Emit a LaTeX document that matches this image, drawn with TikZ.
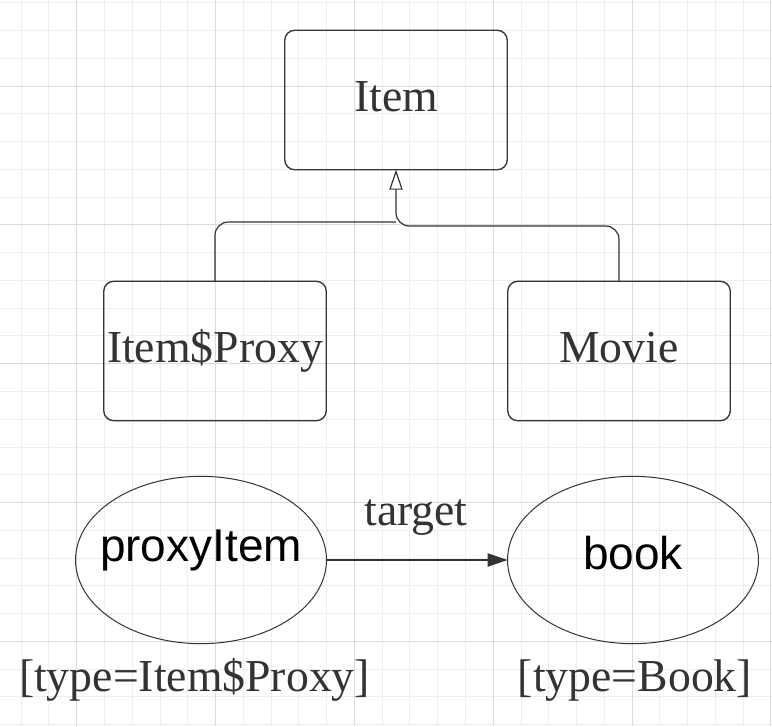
\documentclass[tikz,border=0pt]{standalone}
\usepackage{fontspec}
\setmainfont{Liberation Serif}
\newfontfamily\objfont{Liberation Sans}
\usetikzlibrary{shapes.geometric}
\usetikzlibrary{arrows.meta}
\definecolor{inkgray}{HTML}{333333}
\definecolor{gridminor}{HTML}{EEEEEE}
\definecolor{gridmajor}{HTML}{DADADA}

\begin{document}
\begin{tikzpicture}[x=0.75pt,y=-0.75pt,inner sep=2pt,outer sep=0pt,
classbox/.style={draw=inkgray,rectangle,rounded corners=7.5pt,line width=1pt,minimum width=166.9pt,minimum height=104.6pt,
  text=inkgray,font=\fontsize{34.3}{40}\selectfont,text height=23.8pt,text depth=6.8pt},
objellipse/.style={draw=inkgray,ellipse,inner sep=0pt,line width=0.75pt,minimum width=188.2pt,minimum height=125.5pt,
  text=black,font=\objfont\fontsize{34.5}{40}\selectfont,text height=24.7pt},
typelabel/.style={text=inkgray,font=\fontsize{34.3}{40}\selectfont,inner sep=0pt}]

\useasboundingbox (0,0) rectangle (772,726);
\fill[white] (0,0) rectangle (772,726);

% grid
\foreach \k in {-2,...,25}
  \draw[gridminor,line width=0.75pt] (76.7+27.77*\k,0) -- (76.7+27.77*\k,726);
\foreach \k in {-3,...,23}
  \draw[gridminor,line width=0.75pt] (0,86+27.77*\k) -- (772,86+27.77*\k);
\foreach \j in {0,...,5}
  \draw[gridmajor,line width=0.75pt] (76.7+138.85*\j,0) -- (76.7+138.85*\j,726);
\foreach \j in {0,...,4}
  \draw[gridmajor,line width=0.75pt] (0,86+138.85*\j) -- (772,86+138.85*\j);

% classes
\node[classbox] (item) at (396,100) {Item};
\node[classbox] (itemproxy) at (215,351) {Item\$Proxy};
\node[classbox] (movie) at (619,351) {Movie};

\coordinate (forkl) at (396,222);
\coordinate (forkr) at (396,226);
\draw[inkgray,line width=0.9pt,rounded corners=10pt] (itemproxy.north) |- (forkl);
\draw[inkgray,line width=0.9pt,rounded corners=10pt,-{Triangle[open,length=15pt,width=10pt]}]
  (movie.north) |- (forkr) -- (item.south);

% objects
\node[objellipse,text depth=22.2pt] (proxyitem) at (201,560) {\makebox[0pt]{proxyItem}};
\node[objellipse,text depth=9.75pt] (book) at (633,560) {\makebox[0pt]{book}};

\draw[inkgray,line width=0.9pt,-{Triangle[length=15pt,width=10pt]}] (proxyitem.east) -- (book.west);
\node[typelabel,anchor=base] (target) at (416,525) {target};

\node[typelabel,anchor=base] (proxytype) at (194.5,691) {[type=Item\$Proxy]};
\node[typelabel,anchor=base] (booktype) at (635,691) {[type=Book]};
\end{tikzpicture}
\end{document}
